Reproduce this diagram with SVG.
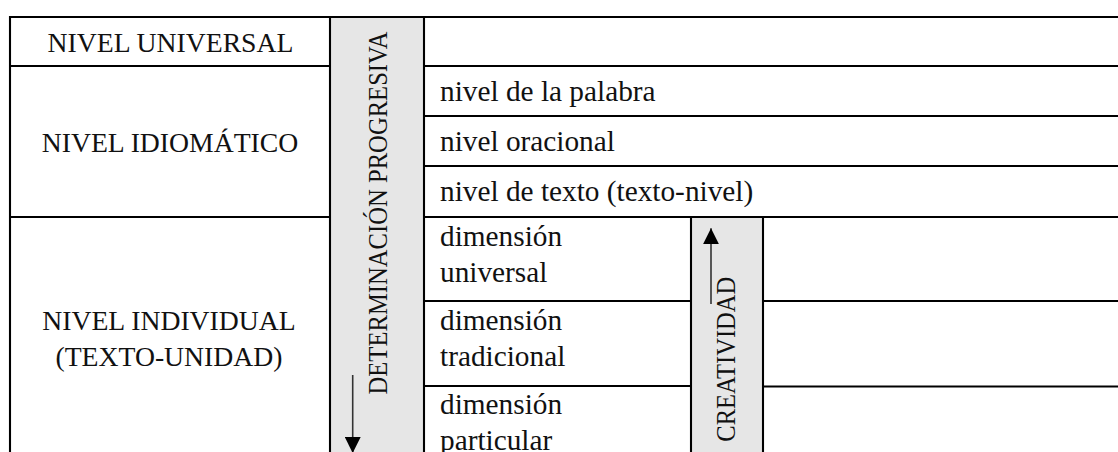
<svg xmlns="http://www.w3.org/2000/svg" width="1118" height="452" viewBox="0 0 1118 452">
<style>
.ln{stroke:#000;stroke-width:2.1;fill:none}
.gray{fill:#e6e6e6;stroke:none}
.cap{font-family:"Liberation Serif","Times New Roman",serif;font-size:27.7px;fill:#111}
.low{font-family:"Liberation Serif","Times New Roman",serif;font-size:29.3px;fill:#111}
.vert{font-family:"Liberation Serif","Times New Roman",serif;font-size:26.5px;fill:#111}
.mid{text-anchor:middle}
.arr{stroke:#333;stroke-width:1.6;fill:none}
</style>
<defs>
<marker id="ah" viewBox="0 0 16 16" refX="16" refY="8" markerWidth="16" markerHeight="16" markerUnits="userSpaceOnUse" orient="auto">
<path d="M0,0 L16,8 L0,16 z" fill="#000"/>
</marker>
</defs>
<rect width="1118" height="452" fill="#fff"/>
<g id="bands">
<rect class="gray" x="330" y="16.5" width="94" height="440"/>
<rect class="gray" x="691" y="216.7" width="72" height="240"/>
</g>
<g id="grid">
<line class="ln" x1="9" y1="17" x2="1120" y2="17"/>
<line class="ln" x1="9" y1="66" x2="330" y2="66"/>
<line class="ln" x1="424" y1="66" x2="1120" y2="66"/>
<line class="ln" x1="424" y1="116" x2="1120" y2="116"/>
<line class="ln" x1="424" y1="166" x2="1120" y2="166"/>
<line class="ln" x1="9" y1="217" x2="330" y2="217"/>
<line class="ln" x1="424" y1="217" x2="1120" y2="217"/>
<line class="ln" x1="424" y1="301" x2="691" y2="301"/>
<line class="ln" x1="763" y1="301" x2="1120" y2="301"/>
<line class="ln" x1="424" y1="386" x2="691" y2="386"/>
<line class="ln" x1="763" y1="386.5" x2="1120" y2="386.5"/>
<line class="ln" x1="10" y1="16" x2="10" y2="460"/>
<line class="ln" x1="330" y1="16" x2="330" y2="460"/>
<line class="ln" x1="424" y1="16" x2="424" y2="460"/>
<line class="ln" x1="691" y1="216" x2="691" y2="460"/>
<line class="ln" x1="763" y1="216" x2="763" y2="460"/>
</g>
<g id="nivel-universal"><text class="cap mid" x="170.5" y="52.3">NIVEL UNIVERSAL</text></g>
<g id="nivel-idiomatico"><text class="cap mid" x="170" y="151.7">NIVEL IDIOMÁTICO</text></g>
<g id="nivel-individual">
<text class="cap mid" x="169" y="330">NIVEL INDIVIDUAL</text>
<text class="cap mid" x="169" y="365.7">(TEXTO-UNIDAD)</text>
</g>
<g id="determinacion">
<text class="vert mid" transform="translate(387,213) rotate(-90)" textLength="363" lengthAdjust="spacingAndGlyphs">DETERMINACIÓN PROGRESIVA</text>
</g>
<g id="palabra"><text class="low" x="440" y="101">nivel de la palabra</text></g>
<g id="oracional"><text class="low" x="440" y="150.7">nivel oracional</text></g>
<g id="texto"><text class="low" x="440" y="201">nivel de texto (texto-nivel)</text></g>
<g id="dim-universal">
<text class="low" x="440" y="246">dimensión</text>
<text class="low" x="440" y="281.7">universal</text>
</g>
<g id="dim-tradicional">
<text class="low" x="440" y="330">dimensión</text>
<text class="low" x="440" y="365.7">tradicional</text>
</g>
<g id="dim-particular">
<text class="low" x="440" y="414.3">dimensión</text>
<text class="low" x="440" y="450">particular</text>
</g>
<g id="creatividad">
<text class="vert mid" transform="translate(735,359.2) rotate(-90)" textLength="165" lengthAdjust="spacingAndGlyphs">CREATIVIDAD</text>
</g>
<g id="connectors">
<line class="arr" x1="352.7" y1="375" x2="352.7" y2="453" marker-end="url(#ah)"/>
<line class="arr" x1="711" y1="304" x2="711" y2="228.3" marker-end="url(#ah)"/>
</g>
</svg>
